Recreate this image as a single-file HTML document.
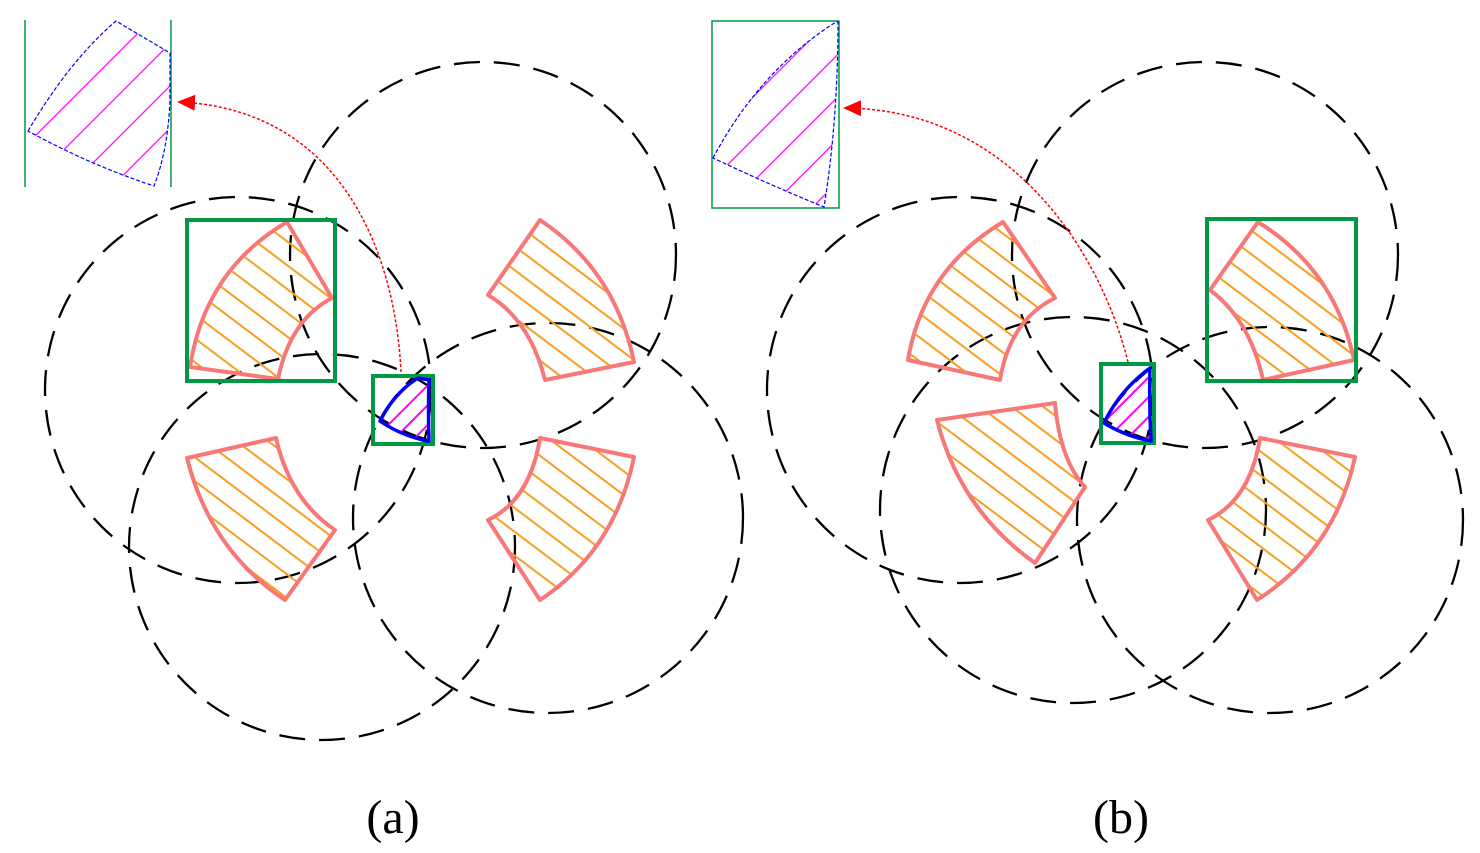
<!DOCTYPE html>
<html><head><style>html,body{margin:0;padding:0;background:#fff}svg{display:block}</style></head>
<body>
<svg width="1480" height="853" viewBox="0 0 1480 853" xmlns="http://www.w3.org/2000/svg">
<defs>
<pattern id="hat" width="20" height="19" patternUnits="userSpaceOnUse" patternTransform="rotate(37)">
<line x1="0" y1="1" x2="20" y2="1" stroke="#f5a020" stroke-width="2"/>
</pattern>
<pattern id="mag" width="14" height="14" patternUnits="userSpaceOnUse" patternTransform="rotate(-45)">
<line x1="0" y1="1" x2="14" y2="1" stroke="#ff00ff" stroke-width="2"/>
</pattern>
<pattern id="mag2" width="30" height="30" patternUnits="userSpaceOnUse" patternTransform="rotate(-45)">
<line x1="0" y1="1" x2="30" y2="1" stroke="#ff00ff" stroke-width="1.2"/>
</pattern>
<marker id="ar" markerWidth="18" markerHeight="16" refX="15" refY="8" orient="auto" markerUnits="userSpaceOnUse">
<path d="M0,0 L18,8 L0,16 Z" fill="#f00"/>
</marker>
</defs>
<g fill="none" stroke="#000" stroke-width="2.3" stroke-dasharray="26 14">
<circle cx="483" cy="255" r="193"/>
<circle cx="238" cy="390" r="193"/>
<circle cx="322" cy="547" r="193"/>
<circle cx="548" cy="518" r="195"/>
<circle cx="1205" cy="255" r="193"/>
<circle cx="960" cy="390" r="193"/>
<circle cx="1073" cy="510" r="193"/>
<circle cx="1270" cy="520" r="193"/>
</g>
<g fill="url(#hat)" stroke="#f87878" stroke-width="4" stroke-linejoin="round">
<path d="M190,367 Q205,270 287,222 L332,298 Q290,320 278,379 Z"/>
<path d="M488,295 L540,220 Q615,270 634,362 L545,380 Q530,320 488,295 Z"/>
<path d="M187,458 L276,438 Q290,500 335,530 L285,600 Q210,550 187,458 Z"/>
<path d="M540,438 Q530,500 488,520 L540,600 Q615,550 634,457 Z"/>
<path d="M908,360 Q923,270 1003,222 L1055,298 Q1010,320 1000,380 Z"/>
<path d="M1210,290 L1258,222 Q1335,270 1354,360 L1263,380 Q1250,320 1210,290 Z"/>
<path d="M937,420 L1055,403 Q1060,460 1085,487 L1035,563 Q960,510 937,420 Z"/>
<path d="M1260,438 Q1250,500 1208,520 L1257,600 Q1335,550 1355,457 Z"/>
</g>
<g fill="none" stroke="#009a44" stroke-width="4">
<rect x="187" y="220" width="148" height="161"/>
<rect x="373" y="376" width="60" height="68"/>
<rect x="1207" y="219" width="149" height="162"/>
<rect x="1101" y="364" width="53" height="79"/>
</g>
<g fill="url(#mag)" stroke="#0000ff" stroke-width="3.5" stroke-linejoin="round">
<path d="M380,421 Q395,392 418,378 L429,380 Q428,410 429,441 L427,441 Q400,435 380,421 Z"/>
<path d="M1104,423 Q1120,390 1150,368 Q1149,405 1151,441 Q1125,436 1104,423 Z"/>
</g>
<g>
<line x1="25" y1="20" x2="25" y2="187" stroke="#009a44" stroke-width="1.5"/>
<line x1="171" y1="20" x2="171" y2="187" stroke="#009a44" stroke-width="1.5"/>
<path d="M28,131 Q70,60 116,21 L170,53 L170,100 Q168,150 154,186 Q90,165 28,131 Z" fill="url(#mag2)" stroke="#0000ff" stroke-width="1.2" stroke-dasharray="4 2"/>
<rect x="712" y="21" width="127" height="187" fill="none" stroke="#009a44" stroke-width="1.5"/>
<path d="M713,158 Q760,70 836,22 L838,22 Q838,120 824,207 Q770,185 713,158 Z" fill="url(#mag2)" stroke="#0000ff" stroke-width="1.2" stroke-dasharray="4 2"/>
</g>
<g fill="none" stroke="#f00" stroke-width="1.5" stroke-dasharray="3 2">
<path d="M401,372 C395,250 340,110 180,102" marker-end="url(#ar)"/>
<path d="M1128,362 C1100,250 1010,110 846,108" marker-end="url(#ar)"/>
</g>
<g font-family="Liberation Serif, serif" font-size="48" fill="#000" text-anchor="middle">
<text x="393" y="833">(a)</text>
<text x="1121" y="833">(b)</text>
</g>
</svg>
</body></html>
